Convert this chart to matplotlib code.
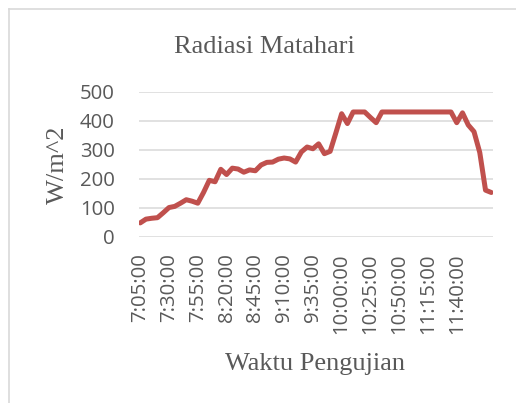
import matplotlib
matplotlib.use("Agg")
import matplotlib.pyplot as plt
from matplotlib.lines import Line2D

# Waktu pengujian (interval 5 menit)
waktu = [
    "7:05:00", "7:10:00", "7:15:00", "7:20:00", "7:25:00", "7:30:00",
    "7:35:00", "7:40:00", "7:45:00", "7:50:00", "7:55:00", "8:00:00",
    "8:05:00", "8:10:00", "8:15:00", "8:20:00", "8:25:00", "8:30:00",
    "8:35:00", "8:40:00", "8:45:00", "8:50:00", "8:55:00", "9:00:00",
    "9:05:00", "9:10:00", "9:15:00", "9:20:00", "9:25:00", "9:30:00",
    "9:35:00", "9:40:00", "9:45:00", "9:50:00", "9:55:00", "10:00:00",
    "10:05:00", "10:10:00", "10:15:00", "10:20:00", "10:25:00", "10:30:00",
    "10:35:00", "10:40:00", "10:45:00", "10:50:00", "10:55:00", "11:00:00",
    "11:05:00", "11:10:00", "11:15:00", "11:20:00", "11:25:00", "11:30:00",
    "11:35:00", "11:40:00", "11:45:00", "11:50:00", "11:55:00", "12:00:00",
    "12:05:00", "12:10:00",
]

# Radiasi matahari (W/m^2)
radiasi = [
    47, 60, 63, 65, 82, 100, 104, 115, 127, 122, 115, 152,
    194, 189, 232, 214, 236, 233, 222, 230, 227, 247, 256, 257,
    267, 271, 268, 257, 292, 309, 303, 320, 286, 294, 358, 424,
    390, 430, 430, 430, 411, 393, 430, 430, 430, 430, 430, 430,
    430, 430, 430, 430, 430, 430, 430, 393, 427, 385, 362, 290,
    160, 152,
]

# Label sumbu x yang ditampilkan (tiap 25 menit)
label_x = ["7:05:00", "7:30:00", "7:55:00", "8:20:00", "8:45:00", "9:10:00",
           "9:35:00", "10:00:00", "10:25:00", "10:50:00", "11:15:00", "11:40:00"]

abu = '#595959'
fig = plt.figure(figsize=(5.16, 4.03), dpi=100)

# bingkai chart (garis kiri & atas)
fig.add_artist(Line2D([8.5 / 516, 8.5 / 516], [0, 1 - 8.5 / 403], color='#d9d9d9', lw=1.2))
fig.add_artist(Line2D([8.5 / 516, 1], [1 - 8.5 / 403, 1 - 8.5 / 403], color='#d9d9d9', lw=1.2))

ax = fig.add_axes([138.5 / 516, 1 - 236.5 / 403, (493 - 138.5) / 516, (236.5 - 91.7) / 403])

x = list(range(len(waktu)))
ax.plot(x, radiasi, color='#c0504d', linewidth=3.6, solid_capstyle='round', solid_joinstyle='round', zorder=3)

ax.set_xlim(-0.3, len(waktu) - 1 + 0.3)
ax.set_ylim(0, 500)
ax.set_yticks([0, 100, 200, 300, 400, 500])
ax.set_xticks([waktu.index(t) for t in label_x])
ax.set_xticklabels(label_x, rotation=90, ha='center', va='top')

for sp in ax.spines.values():
    sp.set_visible(False)
ax.grid(axis='y', color='#d9d9d9', linewidth=1.1)
ax.set_axisbelow(True)
ax.tick_params(axis='both', length=0, labelcolor=abu, labelsize=14.7)
ax.tick_params(axis='y', pad=17)
ax.tick_params(axis='x', pad=12)
for lbl in ax.get_xticklabels() + ax.get_yticklabels():
    lbl.set_fontfamily(['Open Sans', 'DejaVu Sans'])

serif = ['Liberation Serif', 'DejaVu Serif']
fig.text(264 / 516, 1 - 53 / 403, 'Radiasi Matahari', ha='center', va='baseline',
         fontsize=19, color=abu, family=serif)
fig.text(315 / 516, 1 - 370 / 403, 'Waktu Pengujian', ha='center', va='baseline',
         fontsize=19, color=abu, family=serif)
fig.text(57.5 / 516, 1 - 165 / 403, 'W/m^2', ha='center', va='center', rotation=90,
         fontsize=19, color=abu, family=serif)

fig.savefig('out.png', dpi=100)
